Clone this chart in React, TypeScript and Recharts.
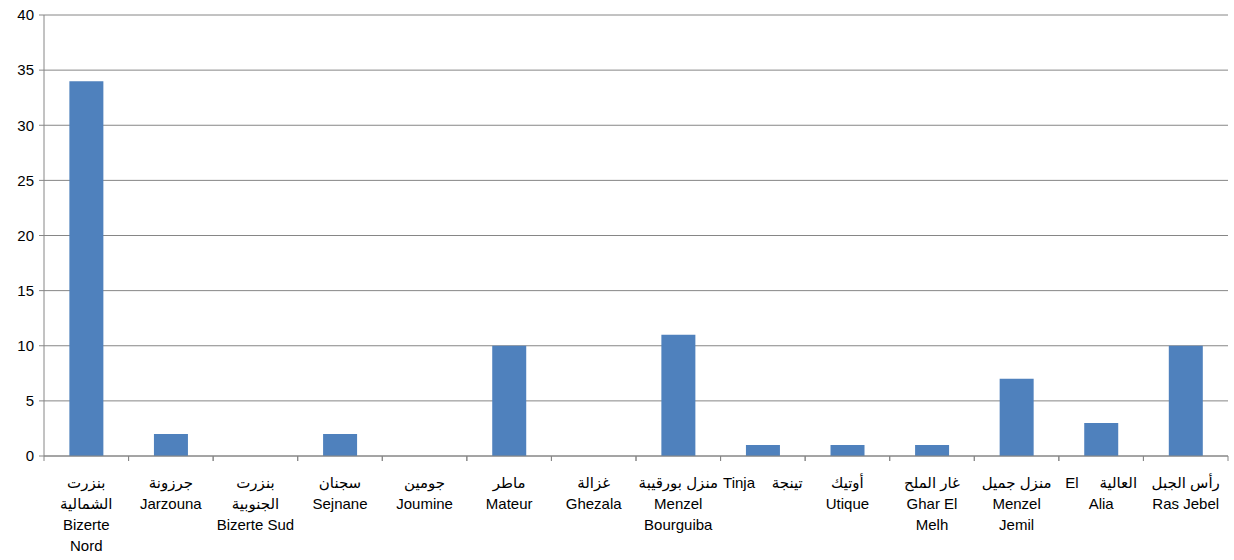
import React from "react";
import { BarChart, Bar, XAxis, YAxis, CartesianGrid } from "recharts";

const categories: string[][] = [
  ["بنزرت", "الشمالية", "Bizerte", "Nord"],
  ["جرزونة", "Jarzouna"],
  ["بنزرت", "الجنوبية", "Bizerte Sud"],
  ["سجنان", "Sejnane"],
  ["جومين", "Joumine"],
  ["ماطر", "Mateur"],
  ["غزالة", "Ghezala"],
  ["منزل بورقيبة", "Menzel", "Bourguiba"],
  ["Tinja    تينجة"],
  ["أوتيك", "Utique"],
  ["غار الملح", "Ghar El", "Melh"],
  ["منزل جميل", "Menzel", "Jemil"],
  ["El     العالية", "Alia"],
  ["رأس الجبل", "Ras Jebel"],
];

const values: number[] = [34, 2, 0, 2, 0, 10, 0, 11, 1, 1, 1, 7, 3, 10];

const yTicks: number[] = [0, 5, 10, 15, 20, 25, 30, 35, 40];

const data = categories.map((c, i) => ({ key: String(i), value: values[i] }));

const FONT = "'Liberation Sans', 'DejaVu Sans', sans-serif";
const AXIS = "#868686";

const XTick = (props: any) => {
  const { x, y, payload } = props;
  const idx = Number(payload.value);
  const lines = categories[idx] || [];
  const half = payload.offset || 0;
  return (
    <g>
      <line x1={x - half} x2={x - half} y1={y - 8} y2={y - 3} stroke={AXIS} />
      <line x1={x + half} x2={x + half} y1={y - 8} y2={y - 3} stroke={AXIS} />
      {lines.map((l, i) => (
        <text
          key={i}
          x={x}
          y={y + 24 + i * 21}
          textAnchor="middle"
          fontFamily={FONT}
          fontSize={15}
          fill="#000"
          style={{ whiteSpace: "pre" }}
        >
          {l}
        </text>
      ))}
    </g>
  );
};

export default function App() {
  return (
    <div style={{ position: "absolute", left: 0, top: 0, width: 1234, height: 560, background: "#fff" }}>
      <BarChart
        width={1234}
        height={560}
        data={data}
        margin={{ top: 15, right: 6, left: 0, bottom: 0 }}
        barCategoryGap="30%"
        style={{ overflow: "visible" }}
      >
        <CartesianGrid vertical={false} stroke={AXIS} strokeWidth={1} />
        <XAxis
          dataKey="key"
          height={104}
          interval={0}
          tickLine={false}
          axisLine={{ stroke: AXIS }}
          tick={<XTick />}
        />
        <YAxis
          width={44}
          domain={[0, 40]}
          ticks={yTicks}
          interval={0}
          axisLine={{ stroke: AXIS }}
          tickLine={{ stroke: AXIS }}
          tickSize={5}
          tickMargin={5}
          tick={{ fontFamily: FONT, fontSize: 15, fill: "#000" }}
        />
        <Bar dataKey="value" fill="#4F81BD" isAnimationActive={false} />
      </BarChart>
    </div>
  );
}
